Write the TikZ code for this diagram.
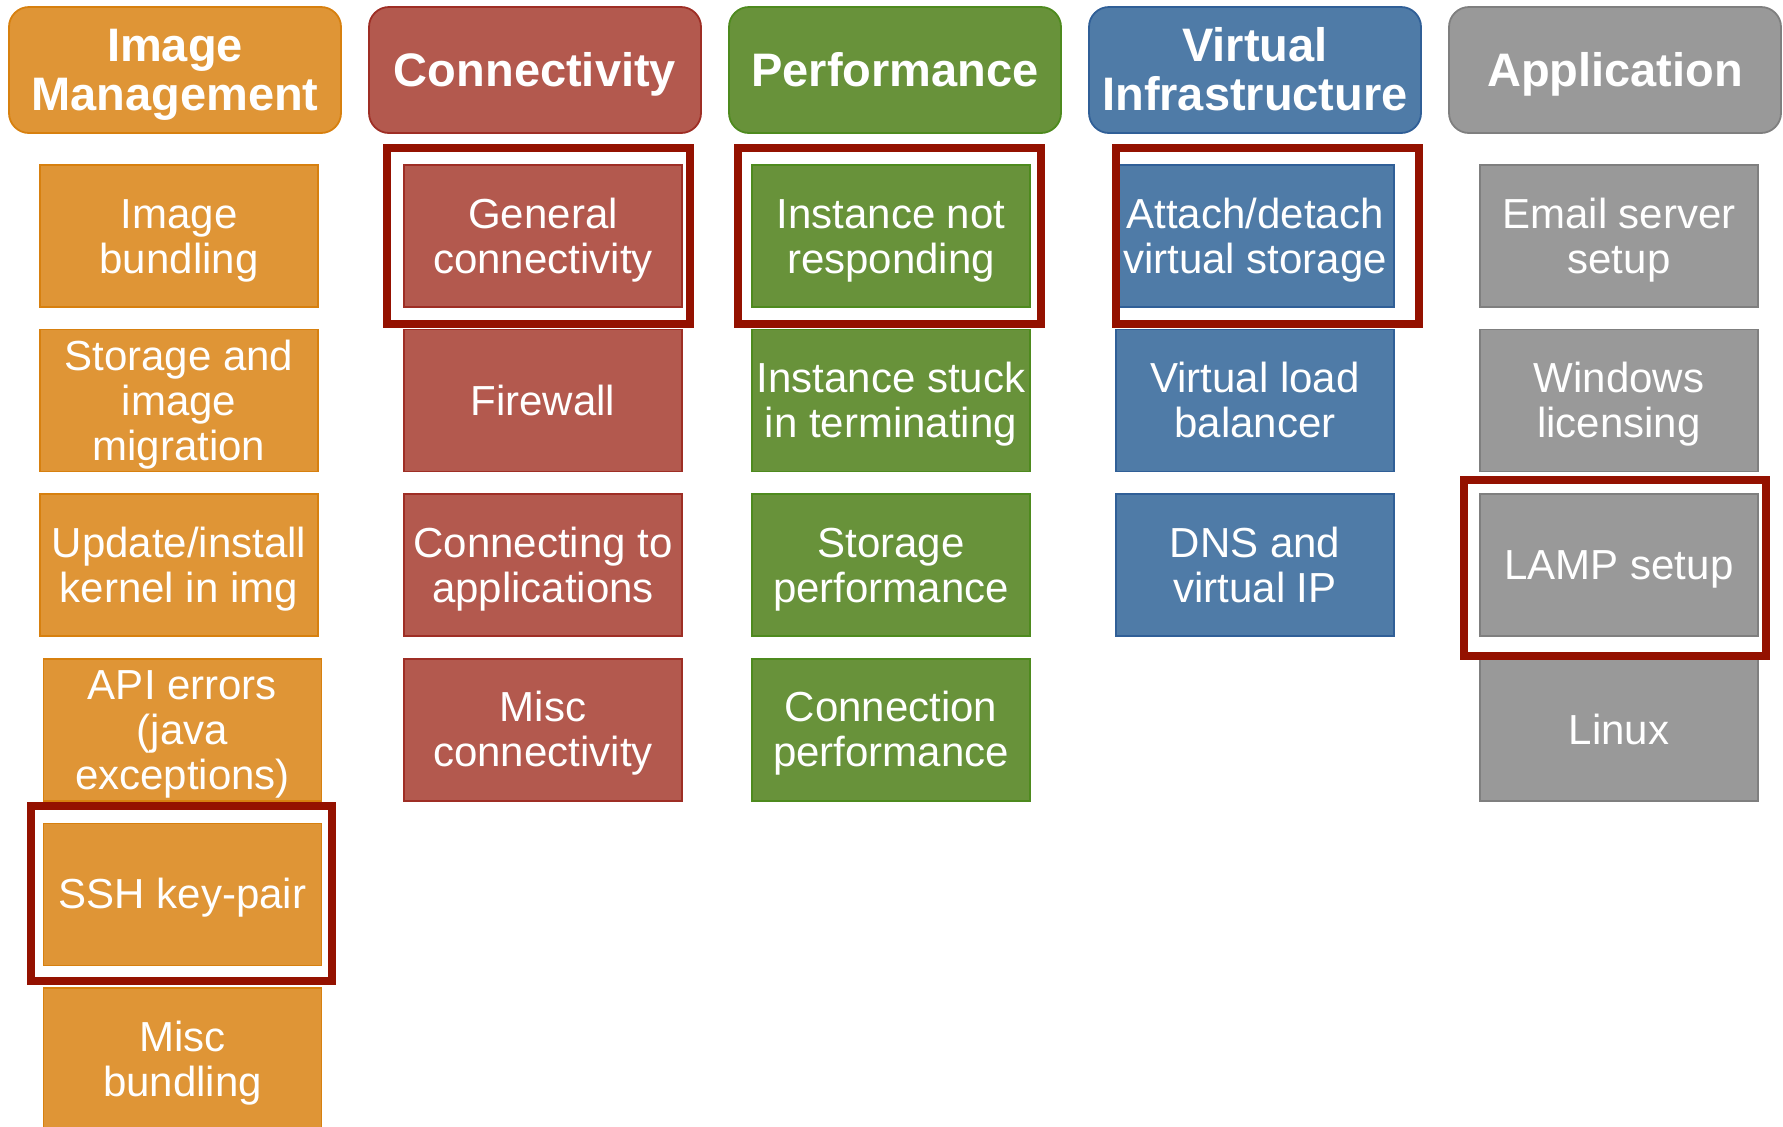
\documentclass[tikz,border=0pt]{standalone}
\usepackage{fontspec}
\setmainfont{Liberation Sans}
\usepackage{xcolor}
\definecolor{imgfill}{HTML}{DF9536}
\definecolor{imgline}{HTML}{D7800F}
\definecolor{confill}{HTML}{B3594E}
\definecolor{conline}{HTML}{9E2E25}
\definecolor{perffill}{HTML}{68923A}
\definecolor{perfline}{HTML}{4E8A1E}
\definecolor{virtfill}{HTML}{4F7BA7}
\definecolor{virtline}{HTML}{305F97}
\definecolor{appfill}{HTML}{999999}
\definecolor{appline}{HTML}{7F7F7F}
\definecolor{frame}{HTML}{941100}
% struts on first and last line, so that every box is centred on the font's line metrics
\newcommand{\headtext}[1]{\rule{0pt}{21.3pt}#1\rule[-5pt]{0pt}{5pt}}
\newcommand{\itemtext}[1]{\rule{0pt}{19pt}#1\rule[-4.45pt]{0pt}{4.45pt}}

\begin{document}
\begin{tikzpicture}[x=0.5pt,y=-0.5pt,
    head/.style={draw,rounded corners=10pt,line width=0.9pt,minimum width=166pt,minimum height=63pt,
      inner sep=0pt,align=center,text=white,font=\fontsize{23.5}{24.5}\selectfont\bfseries},
    item/.style={draw,line width=0.8pt,minimum width=139pt,minimum height=71pt,
      inner sep=0pt,align=center,text=white,font=\fontsize{21}{22.5}\selectfont},
    hilite/.style={draw=frame,line width=4pt}]
  \useasboundingbox (0,0) rectangle (1783,1126);

  % headers
  \node[head,fill=imgfill,draw=imgline] (himg) at (175,70) {\headtext{Image\\Management}};
  \node[head,fill=confill,draw=conline] (hcon) at (535,70) {\headtext{Connectivity}};
  \node[head,fill=perffill,draw=perfline] (hperf) at (895,70) {\headtext{Performance}};
  \node[head,fill=virtfill,draw=virtline] (hvirt) at (1255,70) {\headtext{Virtual\\Infrastructure}};
  \node[head,fill=appfill,draw=appline] (happ) at (1615,70) {\headtext{Application}};

  % image management
  \foreach \t [count=\r] in {{Image\\bundling},{Storage and\\image\\migration},{Update/install\\kernel in img}}{
    \node[item,fill=imgfill,draw=imgline] (img\r) at (179,{236+164.6*(\r-1)}) {\itemtext{\t}};
  }
  \foreach \t [count=\r from 4] in {{API errors\\(java\\exceptions)},{SSH key-pair},{Misc\\bundling}}{
    \node[item,fill=imgfill,draw=imgline] (img\r) at (182.5,{236+164.6*(\r-1)}) {\itemtext{\t}};
  }

  % connectivity
  \foreach \t [count=\r] in {{General\\connectivity},{Firewall},{Connecting to\\applications},{Misc\\connectivity}}{
    \node[item,fill=confill,draw=conline] (con\r) at (543,{236+164.6*(\r-1)}) {\itemtext{\t}};
  }

  % performance
  \foreach \t [count=\r] in {{Instance not\\responding},{Instance stuck\\in terminating},{Storage\\performance},{Connection\\performance}}{
    \node[item,fill=perffill,draw=perfline] (perf\r) at (891,{236+164.6*(\r-1)}) {\itemtext{\t}};
  }

  % virtual infrastructure
  \foreach \t [count=\r] in {{Attach/detach\\virtual storage},{Virtual load\\balancer},{DNS and\\virtual IP}}{
    \node[item,fill=virtfill,draw=virtline] (virt\r) at (1255,{236+164.6*(\r-1)}) {\itemtext{\t}};
  }

  % application
  \foreach \t [count=\r] in {{Email server\\setup},{Windows\\licensing},{LAMP setup},{Linux}}{
    \node[item,fill=appfill,draw=appline] (app\r) at (1619,{236+164.6*(\r-1)}) {\itemtext{\t}};
  }

  % highlighted topics
  \draw[hilite] ([shift={(-16,-16)}]con1.north west) rectangle ([shift={(7,16)}]con1.south east);
  \draw[hilite] ([shift={(-13,-16)}]perf1.north west) rectangle ([shift={(10,16)}]perf1.south east);
  \draw[hilite] ([shift={(1,-16)}]virt1.north west) rectangle ([shift={(24,16)}]virt1.south east);
  \draw[hilite] ([shift={(-12,-17)}]img5.north west) rectangle ([shift={(10,15)}]img5.south east);
  \draw[hilite] ([shift={(-15,-13)}]app3.north west) rectangle ([shift={(7,19)}]app3.south east);
\end{tikzpicture}
\end{document}
